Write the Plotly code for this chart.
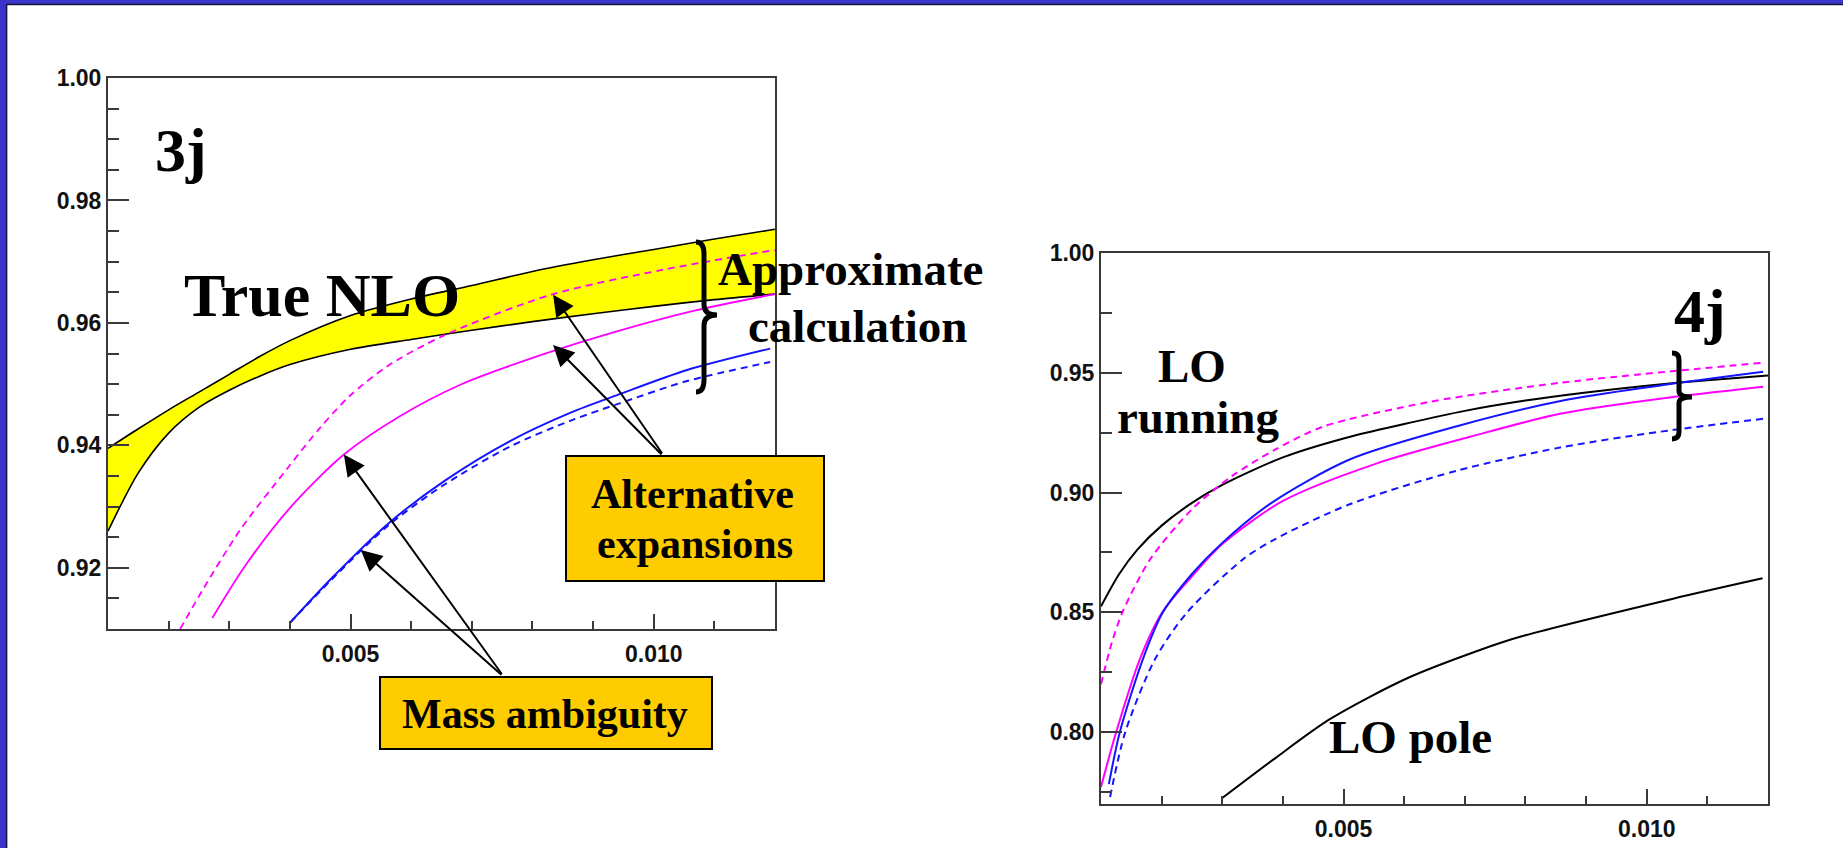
import plotly.graph_objects as go

W, H = 1843, 848

# ---------------- 3j panel ----------------
band_x = [0.0010, 0.0015, 0.0020, 0.0025, 0.0030, 0.0035, 0.0040, 0.0050, 0.0060,
          0.0070, 0.0080, 0.0090, 0.0100, 0.0110, 0.0120]
band_hi = [0.9395, 0.9427, 0.9458, 0.9487, 0.9516, 0.9545, 0.9571, 0.9612, 0.9639,
           0.9661, 0.9684, 0.9703, 0.9720, 0.9737, 0.9753]
band_lo = [0.9260, 0.9355, 0.9420, 0.9462, 0.9490, 0.9513, 0.9532, 0.9557, 0.9573,
           0.9588, 0.9602, 0.9615, 0.9627, 0.9638, 0.9647]

mag_dash_3j_x = [0.00219, 0.00258, 0.00318, 0.00394, 0.00450, 0.00499, 0.00562,
                 0.00655, 0.00831, 0.01016, 0.01200]
mag_dash_3j_y = [0.9100, 0.9167, 0.9262, 0.9360, 0.9429, 0.9481, 0.9530,
                 0.9580, 0.9646, 0.9687, 0.9719]

mag_solid_3j_x = [0.00272, 0.00326, 0.00402, 0.00489, 0.00582, 0.00681, 0.00780,
                  0.00932, 0.01067, 0.01200]
mag_solid_3j_y = [0.9118, 0.9203, 0.9300, 0.9385, 0.9448, 0.9499, 0.9536,
                  0.9584, 0.9620, 0.9647]

blue_solid_3j_x = [0.00400, 0.00470, 0.00562, 0.00655, 0.00763, 0.00862, 0.00945,
                   0.01055, 0.01192]
blue_solid_3j_y = [0.9110, 0.9184, 0.9272, 0.9342, 0.9407, 0.9453, 0.9484,
                   0.9523, 0.9558]

blue_dash_3j_x = [0.00400, 0.00470, 0.00562, 0.00655, 0.00763, 0.00862, 0.00945,
                  0.01055, 0.01192]
blue_dash_3j_y = [0.9110, 0.9182, 0.9269, 0.9336, 0.9398, 0.9440, 0.9469,
                  0.9505, 0.9536]

# ---------------- 4j panel ----------------
lo_run_x = [0.0010, 0.0013, 0.0016, 0.0020, 0.0025, 0.0030, 0.0040, 0.0050, 0.0060,
            0.0070, 0.0080, 0.0090, 0.0100, 0.0110, 0.0120]
lo_run_y = [0.8525, 0.8660, 0.8762, 0.8862, 0.8957, 0.9032, 0.9147, 0.9226, 0.9286,
            0.9341, 0.9384, 0.9418, 0.9446, 0.9469, 0.9489]

lo_pole_x = [0.00300, 0.00384, 0.00478, 0.00605, 0.00725, 0.00791, 0.01042, 0.01191]
lo_pole_y = [0.7725, 0.7885, 0.8055, 0.8225, 0.8343, 0.8398, 0.8556, 0.8642]

mag_dash_4j_x = [0.00100, 0.00118, 0.00136, 0.00181, 0.00250, 0.00315, 0.00387,
                 0.00466, 0.00643, 0.00857, 0.01192]
mag_dash_4j_y = [0.8200, 0.8375, 0.8504, 0.8721, 0.8930, 0.9067, 0.9179,
                 0.9275, 0.9379, 0.9458, 0.9542]

mag_solid_4j_x = [0.00100, 0.00125, 0.00164, 0.00201, 0.00250, 0.00300, 0.00400,
                  0.00554, 0.00709, 0.00857, 0.01022, 0.01192]
mag_solid_4j_y = [0.7771, 0.8000, 0.8304, 0.8500, 0.8650, 0.8785, 0.8965,
                  0.9121, 0.9233, 0.9329, 0.9392, 0.9442]

blue_solid_4j_x = [0.00113, 0.00131, 0.00169, 0.00202, 0.00250, 0.00300, 0.00380,
                   0.00510, 0.00690, 0.00860, 0.01020, 0.01192]
blue_solid_4j_y = [0.7783, 0.8000, 0.8304, 0.8500, 0.8660, 0.8790, 0.8955,
                   0.9138, 0.9279, 0.9383, 0.9446, 0.9504]

blue_dash_4j_x = [0.00115, 0.00140, 0.00189, 0.00242, 0.00334, 0.00386, 0.00509,
                  0.00688, 0.00857, 0.01022, 0.01192]
blue_dash_4j_y = [0.7729, 0.8000, 0.8304, 0.8500, 0.8721, 0.8804, 0.8950,
                  0.9092, 0.9188, 0.9254, 0.9308]

MAGENTA = "#ff00ff"
BLUE = "#1414ff"
YELLOW = "#ffff00"
BOX = "#ffcc00"
FRAME = "#3a3a3a"
DASH = "7px,5px"

fig = go.Figure()


def curve(x, y, color, dash="solid", width=2.0, xa="x", ya="y", **kw):
    fig.add_trace(go.Scatter(
        x=x, y=y, mode="lines", xaxis=xa, yaxis=ya,
        line=dict(color=color, width=width, dash=dash, shape="spline", smoothing=0.8),
        hoverinfo="skip", showlegend=False, **kw))


# yellow band between the two true NLO curves
curve(band_x, band_lo, "black", width=1.6)
curve(band_x, band_hi, "black", width=1.6, fill="tonexty", fillcolor=YELLOW)
curve(mag_dash_3j_x, mag_dash_3j_y, MAGENTA, dash=DASH, width=1.8)
curve(mag_solid_3j_x, mag_solid_3j_y, MAGENTA, width=1.8)
curve(blue_dash_3j_x, blue_dash_3j_y, BLUE, dash=DASH, width=2)
curve(blue_solid_3j_x, blue_solid_3j_y, BLUE, width=2)

curve(lo_run_x, lo_run_y, "black", width=2, xa="x2", ya="y2")
curve(lo_pole_x, lo_pole_y, "black", width=2, xa="x2", ya="y2")
curve(mag_dash_4j_x, mag_dash_4j_y, MAGENTA, dash=DASH, width=2, xa="x2", ya="y2")
curve(mag_solid_4j_x, mag_solid_4j_y, MAGENTA, width=2, xa="x2", ya="y2")
curve(blue_dash_4j_x, blue_dash_4j_y, BLUE, dash=DASH, width=2, xa="x2", ya="y2")
curve(blue_solid_4j_x, blue_solid_4j_y, BLUE, width=2, xa="x2", ya="y2")


def px(x):
    return x / W


def py(y):
    return 1 - y / H


tickfont = dict(family="Liberation Sans", size=23, color="#111111", weight="bold")
axis_base = dict(showline=True, linecolor=FRAME, linewidth=2, mirror=True,
                 ticks="inside", tickcolor=FRAME, tickwidth=2, showgrid=False,
                 zeroline=False, tickfont=tickfont, fixedrange=True,
                 automargin=False)

fig.update_layout(
    width=W, height=H, autosize=False,
    margin=dict(l=0, r=0, t=0, b=0, pad=0, autoexpand=False),
    paper_bgcolor="white", plot_bgcolor="white",
    xaxis=dict(axis_base, domain=[px(108), px(775)], range=[0.001, 0.012],
               tick0=0, dtick=0.005, tickformat=".3f", ticklen=15, anchor="y",
               ticklabelstandoff=3,
               minor=dict(tick0=0, dtick=0.001, ticklen=8, ticks="inside",
                          tickcolor=FRAME, tickwidth=2)),
    yaxis=dict(axis_base, domain=[py(629), py(78)], range=[0.91, 1.00],
               tick0=0, dtick=0.02, tickformat=".2f", ticklen=21, anchor="x",
               minor=dict(tick0=0, dtick=0.005, ticklen=11, ticks="inside",
                          tickcolor=FRAME, tickwidth=2)),
    xaxis2=dict(axis_base, domain=[px(1101), px(1768)], range=[0.001, 0.012],
                tick0=0, dtick=0.005, tickformat=".3f", ticklen=15, anchor="y2",
                ticklabelstandoff=3,
                minor=dict(tick0=0, dtick=0.001, ticklen=8, ticks="inside",
                           tickcolor=FRAME, tickwidth=2)),
    yaxis2=dict(axis_base, domain=[py(804), py(253)], range=[0.77, 1.00],
                tick0=0, dtick=0.05, tickformat=".2f", ticklen=21, anchor="x2",
                minor=dict(tick0=0, dtick=0.025, ticklen=11, ticks="inside",
                           tickcolor=FRAME, tickwidth=2)),
)

shapes = []
# slide frame: blue strips along the top and left edges
BORDER = "#3a34c9"
shapes.append(dict(type="rect", xref="paper", yref="paper", x0=0, x1=1, y0=py(4), y1=1,
                   fillcolor=BORDER, line=dict(width=0), layer="above"))
shapes.append(dict(type="rect", xref="paper", yref="paper", x0=0, x1=px(6), y0=0, y1=1,
                   fillcolor=BORDER, line=dict(width=0), layer="above"))
shapes.append(dict(type="line", xref="paper", yref="paper", x0=px(6), x1=1, y0=py(4.6), y1=py(4.6),
                   line=dict(color="#15153a", width=1.5), layer="above"))
shapes.append(dict(type="line", xref="paper", yref="paper", x0=px(6.6), x1=px(6.6), y0=0, y1=py(4),
                   line=dict(color="#15153a", width=1.5), layer="above"))


def brace(x0, x1, x2, ytop, ymid, ybot, width=4.5):
    """Right-pointing curly brace, given in figure pixels."""
    h = (ybot - ytop) / 2.0
    pts = [
        f"M {px(x0)},{py(ytop)}",
        f"Q {px(x1)},{py(ytop)} {px(x1)},{py(ytop + 0.16 * h)}",
        f"L {px(x1)},{py(ymid - 0.14 * h)}",
        f"Q {px(x1)},{py(ymid)} {px(x2)},{py(ymid)}",
        f"Q {px(x1)},{py(ymid)} {px(x1)},{py(ymid + 0.14 * h)}",
        f"L {px(x1)},{py(ybot - 0.16 * h)}",
        f"Q {px(x1)},{py(ybot)} {px(x0)},{py(ybot)}",
    ]
    return dict(type="path", xref="paper", yref="paper", path=" ".join(pts),
                line=dict(color="black", width=width), layer="above")


shapes.append(brace(696, 704, 717, 242, 315, 392, width=5))
shapes.append(brace(1672, 1679, 1692, 353, 397, 439, width=5))

# label boxes
shapes.append(dict(type="rect", xref="paper", yref="paper",
                   x0=px(566), x1=px(824), y0=py(581), y1=py(456),
                   fillcolor=BOX, line=dict(color="black", width=2), layer="above"))
shapes.append(dict(type="rect", xref="paper", yref="paper",
                   x0=px(380), x1=px(712), y0=py(749), y1=py(677),
                   fillcolor=BOX, line=dict(color="black", width=2), layer="above"))
fig.update_layout(shapes=shapes)

SERIF = "Liberation Serif"
annotations = []


def label(text, cx, cy, size):
    annotations.append(dict(
        text=text, xref="paper", yref="paper", x=px(cx), y=py(cy),
        xanchor="center", yanchor="middle", showarrow=False,
        font=dict(family=SERIF, size=size, color="black", weight="bold")))


label("3j", 181, 150, 62)
label("True NLO", 322, 295, 62)
label("Approximate", 850, 269, 47)
label("calculation", 857, 326, 47)
label("Alternative", 692, 494, 42)
label("expansions", 695, 544, 42)
label("Mass ambiguity", 545, 714, 42)
label("4j", 1700, 311, 62)
label("LO", 1192, 366, 47)
label("running", 1198, 417, 47)
label("LO pole", 1410, 737, 47)


def arrow(x, y, ax, ay):
    annotations.append(dict(
        text="", xref="x", yref="y", x=x, y=y, ax=ax, ay=ay,
        showarrow=True, arrowhead=2, arrowsize=2.1, arrowwidth=2,
        arrowcolor="black", standoff=0, startstandoff=0))


# "Alternative expansions" pointers (tail at top of the box)
arrow(0.00834, 0.9646, 110, 160)
arrow(0.00834, 0.9564, 110, 111)
# "Mass ambiguity" pointers (tail at top of the box)
arrow(0.00489, 0.9385, 159, 221)
arrow(0.00517, 0.9229, 142, 126)

fig.update_layout(annotations=annotations)

fig.write_html("out.html")
